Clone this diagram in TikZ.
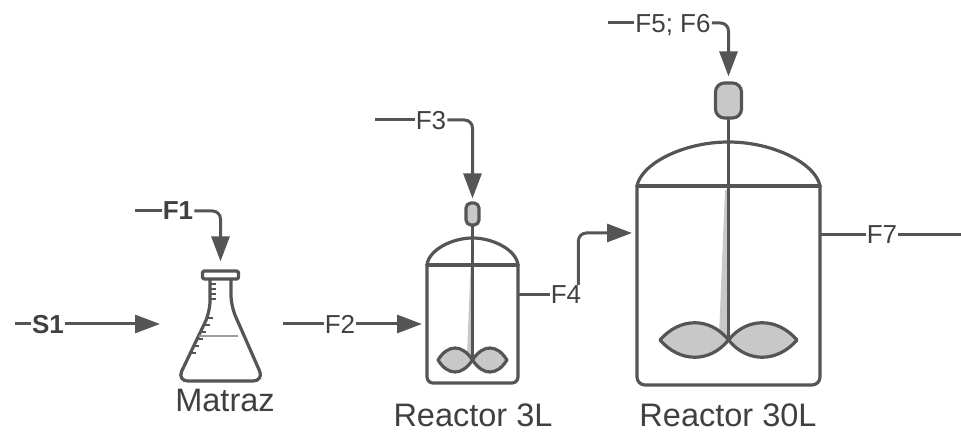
\documentclass[tikz,border=0pt]{standalone}
\usepackage{fontspec}
\setmainfont{Liberation Sans}
\usetikzlibrary{arrows.meta}
\definecolor{linegray}{HTML}{555555}
\definecolor{textgray}{HTML}{404040}
\definecolor{bladegray}{HTML}{C8C8C8}
\definecolor{liquidgray}{HTML}{9C9C9C}
\tikzset{
  every picture/.style={font={\fontsize{26}{30}\selectfont}, >={Triangle[length=25pt,width=18pt]}}}

\begin{document}
\begin{tikzpicture}[x=1pt, y=-1pt,
    stream/.style={draw=linegray, line width=3pt, rounded corners=8pt},
    flow/.style={text=textgray, inner sep=1pt, text depth=0pt},
    unit/.style={draw=linegray, line width=3.2pt, line cap=round, line join=round},
    vessel/.style={inner sep=0pt, outer sep=0pt},
    motor/.style={unit, fill=bladegray, inner sep=0pt},
    blade/.style={unit, fill=bladegray},
    unitlabel/.style={text=textgray, font={\fontsize{32.5}{36}\selectfont}}]

    \useasboundingbox (0,0) rectangle (961,435);

    % matraz
    \node[unit, fill=white, minimum width=36pt, minimum height=8pt, inner sep=0pt,
      rounded corners=1.5pt] (cap) at (220.5,275) {};
    \draw[unit, rounded corners=11pt] (210,280) -- (210,312) -- (177,381) -- (264,381)
      -- (231,306) -- (231,280);
    \foreach \y in {284,289,294,299}
      \draw[draw=linegray, line width=1.5pt] (210,\y) -- (216,\y);
    \foreach \t in {0,...,5} {
      \pgfmathsetmacro\ty{318+7*\t}
      \pgfmathsetmacro\tx{210-(\ty-312)*0.5}
      \draw[draw=linegray, line width=1.5pt] (\tx,\ty) -- (\tx+6,\ty);
    }
    \draw[draw=liquidgray, line width=2pt] (199,336) -- (238,336);
    \node[unitlabel] (matraz) at (225,400) {Matraz};

    % reactor 3L
    \node[vessel, minimum width=91pt, minimum height=118pt] (R3) at (472.5,324) {};
    \draw[unit] (R3.north west) -- (R3.north east);
    \draw[unit, rounded corners=6pt] (R3.north east) -- (R3.south east) -- (R3.south west)
      -- (R3.north west);
    \draw[unit] (R3.north west) .. controls (428.5,250) and (452,238) .. (472.5,238)
      .. controls (493,238) and (516.5,250) .. (R3.north east);
    \node[motor, minimum width=13pt, minimum height=22pt, rounded corners=5pt] (M3) at (472.5,214) {};
    \fill[bladegray] (470.5,268) -- (471.5,268) -- (471.5,356) -- (467,356) -- cycle;
    \draw[unit] (M3.south) -- (472.5,360);
    \draw[blade] (472.5,360) .. controls (462,344) and (448,344) .. (438,360)
      .. controls (448,376) and (462,376) .. (472.5,360);
    \draw[blade] (472.5,360) .. controls (483,344) and (497,344) .. (507,360)
      .. controls (497,376) and (483,376) .. (472.5,360);
    \node[unitlabel] (reactor3) at (473,415) {Reactor 3L};

    % reactor 30L
    \node[vessel, minimum width=183pt, minimum height=199pt] (R30) at (728.5,285.5) {};
    \draw[unit] (R30.north west) -- (R30.north east);
    \draw[unit, rounded corners=8pt] (R30.north east) -- (R30.south east) -- (R30.south west)
      -- (R30.north west);
    \draw[unit] (R30.north west) .. controls (641,164) and (683,142) .. (728.5,142)
      .. controls (774,142) and (816,164) .. (R30.north east);
    \node[motor, minimum width=26pt, minimum height=35pt, rounded corners=9pt] (M30) at (728.5,100.5) {};
    \fill[bladegray] (725,190) -- (727,190) -- (727,336) -- (719,336) -- cycle;
    \draw[unit] (M30.south) -- (728.5,340);
    \draw[blade] (728.5,340) .. controls (710,317) and (680,317) .. (660,340)
      .. controls (680,363) and (710,363) .. (728.5,340);
    \draw[blade] (728.5,340) .. controls (747,317) and (777,317) .. (797,340)
      .. controls (777,363) and (747,363) .. (728.5,340);
    \node[unitlabel] (reactor30) at (728,415) {Reactor 30L};

    % corrientes
    \node[flow, font={\fontsize{26}{30}\selectfont\bfseries}] (S1) at (48,324) {S1};
    \node[flow, font={\fontsize{26}{30}\selectfont\bfseries}] (F1) at (178,211) {F1};
    \node[flow] (F2) at (340,324) {F2};
    \node[flow] (F3) at (431,120) {F3};
    \node[flow] (F4) at (566,295) {F4};
    \node[flow] (F56) at (673,23) {F5; F6};
    \node[flow] (F7) at (882,235) {F7};

    \coordinate (s1start) at (15,324);
    \coordinate (flaskin) at (160,324);
    \coordinate (f1start) at (135,211);
    \coordinate (f2start) at (283,324);
    \coordinate (f3start) at (375,120);
    \coordinate (in30) at (632,233);
    \coordinate (f56start) at (608,23);
    \coordinate (f7end) at (961,235);

    \draw[stream] (s1start) -- (S1.west);
    \draw[stream, ->] (S1.east) -- (flaskin);
    \draw[stream] (f1start) -- (F1.west);
    \draw[stream, ->, shorten >=8pt] (F1.east) -| (cap.north);
    \draw[stream] (f2start) -- (F2.west);
    \draw[stream, ->, shorten >=5pt] (F2.east) -- (R3.west);
    \draw[stream] (f3start) -- (F3.west);
    \draw[stream, ->, shorten >=3pt] (F3.east) -| (M3.north);
    \draw[stream] (R3.east |- F4) -- (F4.west);
    \draw[stream, ->] ([xshift=-4pt]F4.north east) |- (in30);
    \draw[stream] (f56start) -- (F56.west);
    \draw[stream, ->, shorten >=5pt] (F56.east) -| (M30.north);
    \draw[stream] (R30.east |- F7) -- (F7.west);
    \draw[stream] (F7.east) -- (f7end);
  \end{tikzpicture}
\end{document}
